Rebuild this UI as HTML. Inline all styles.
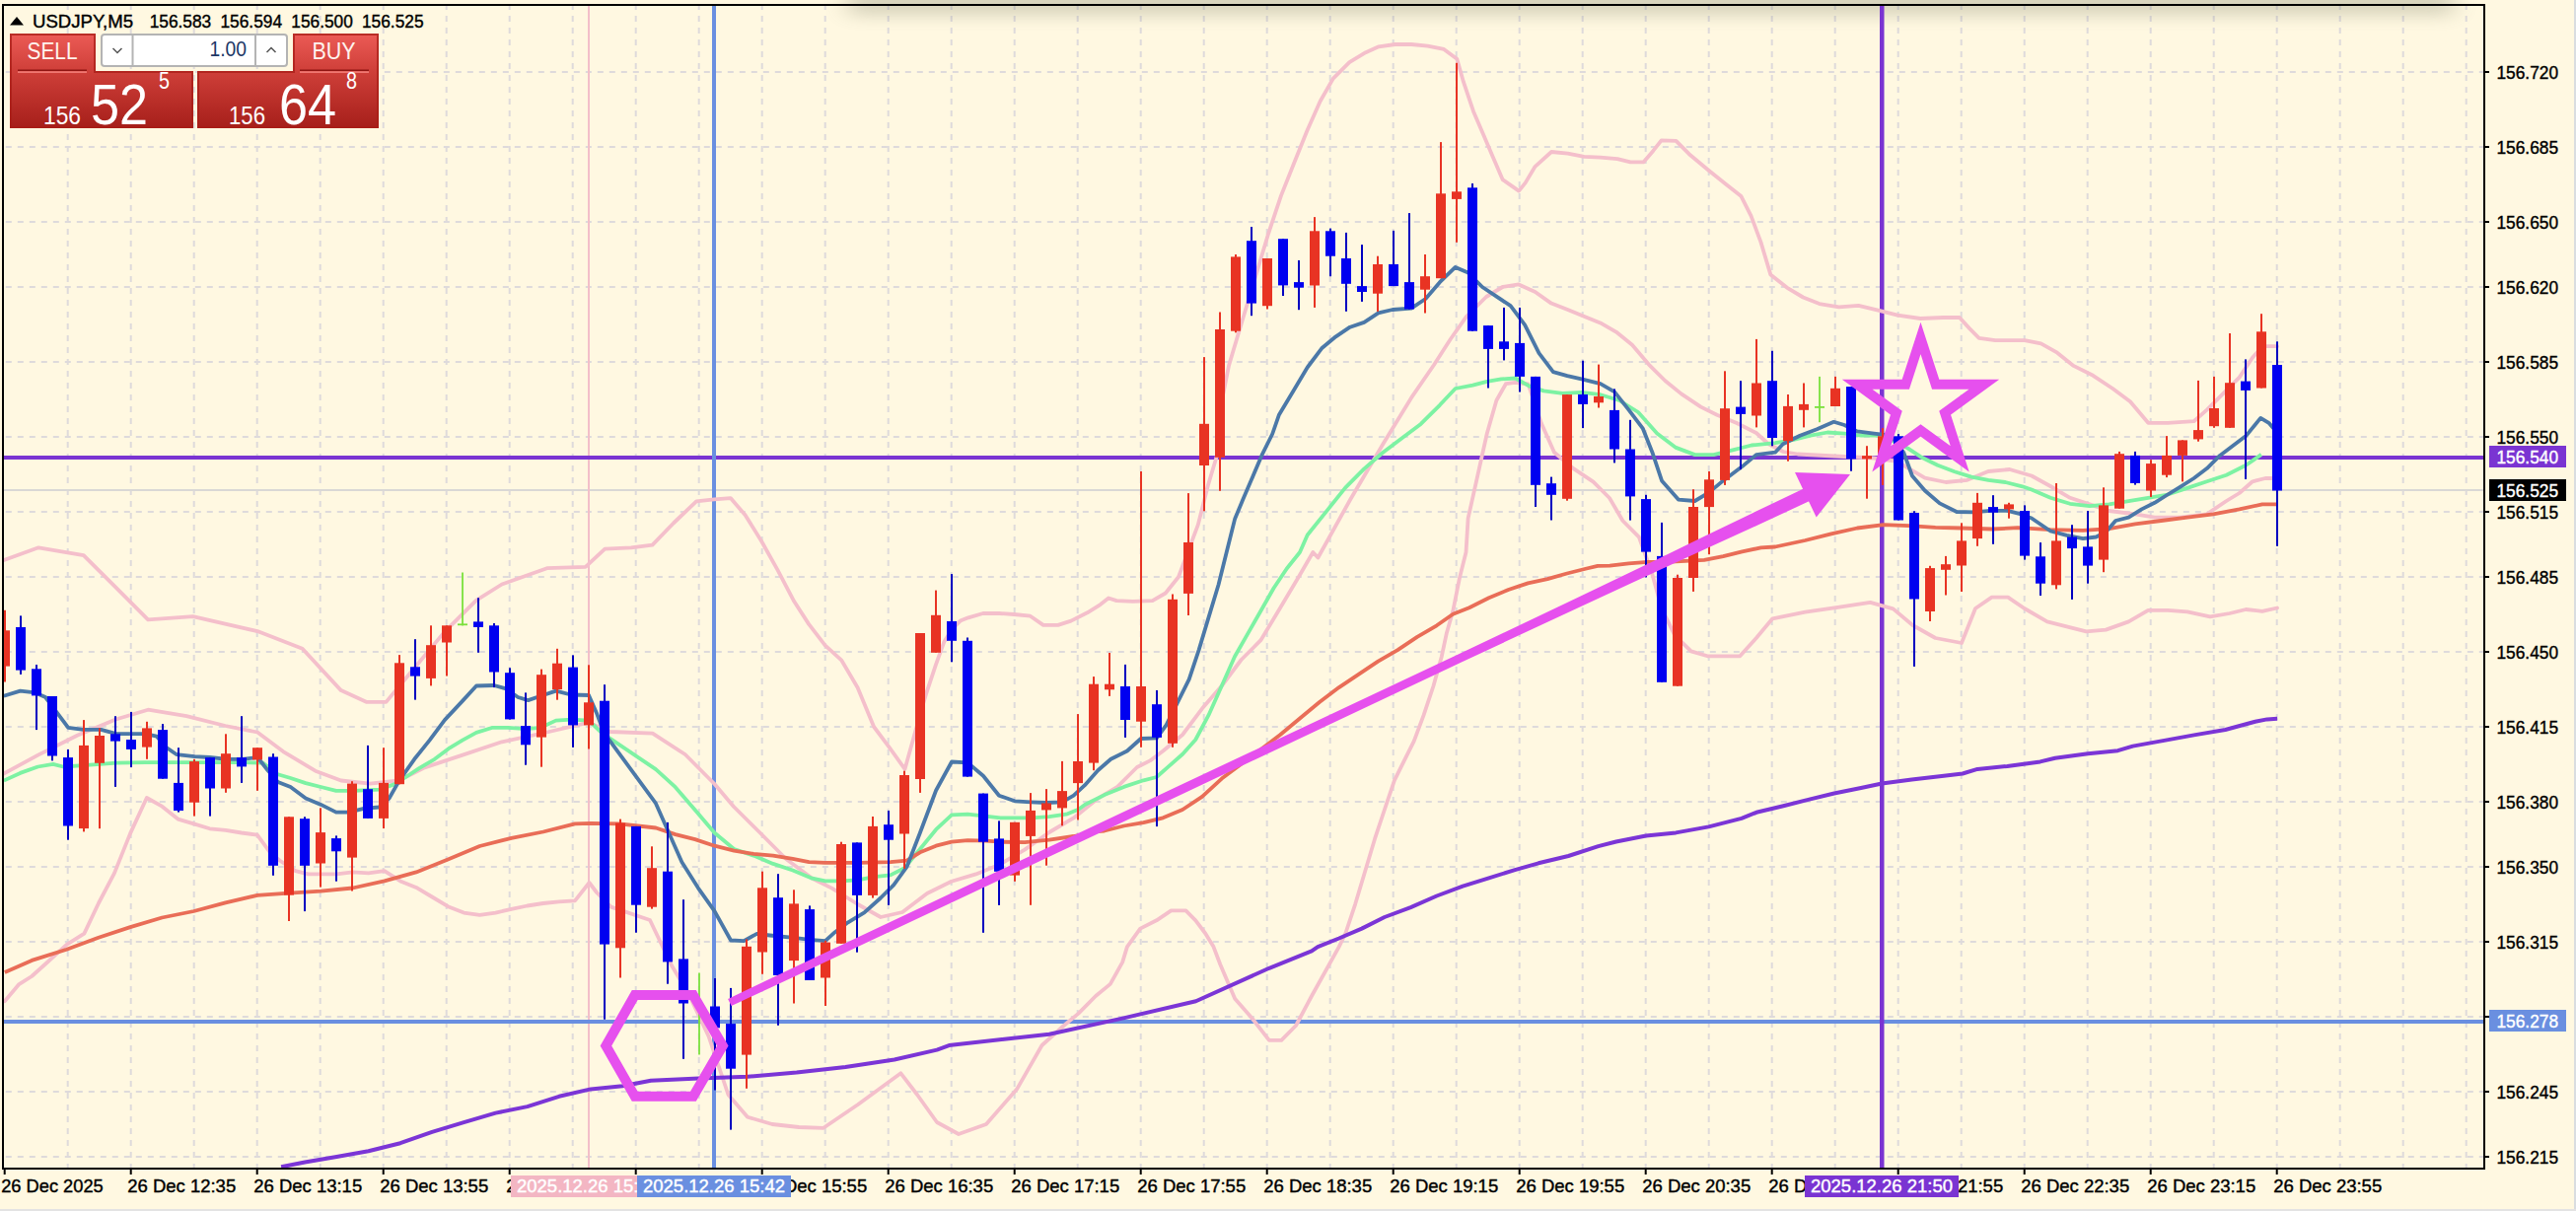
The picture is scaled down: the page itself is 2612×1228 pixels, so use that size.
<!DOCTYPE html>
<html><head><meta charset="utf-8"><title>USDJPY,M5</title>
<style>
html,body{margin:0;padding:0;background:#fff8e1;}
body{width:2612px;height:1228px;overflow:hidden;position:relative;font-family:"Liberation Sans",sans-serif;}
svg{position:absolute;left:0;top:0;display:block}
text{font-family:"Liberation Sans",sans-serif;}
</style></head><body>
<svg width="2612" height="1228" viewBox="0 0 2612 1228">
<defs>
<linearGradient id="rg" x1="0" y1="0" x2="0" y2="1"><stop offset="0" stop-color="#ec5b56"/><stop offset="0.38" stop-color="#d0403a"/><stop offset="1" stop-color="#a61f1a"/></linearGradient>
<linearGradient id="sh" x1="0" y1="0" x2="0" y2="1"><stop offset="0" stop-color="#8a8878" stop-opacity="0.45"/><stop offset="1" stop-color="#8a8878" stop-opacity="0"/></linearGradient>
<filter id="bl" x="-5%" y="-100%" width="110%" height="400%"><feGaussianBlur stdDeviation="12 8"/></filter>
<clipPath id="cp"><rect x="4" y="6" width="2514" height="1178"/></clipPath>
</defs>
<rect width="2612" height="1228" fill="#fff8e1"/>

<g stroke="#dedadb" stroke-width="2" stroke-dasharray="6 6" fill="none">
<path d="M5.8 73H2518"/>
<path d="M5.8 149H2518"/>
<path d="M5.8 225H2518"/>
<path d="M5.8 291H2518"/>
<path d="M5.8 367H2518"/>
<path d="M5.8 443H2518"/>
<path d="M5.8 519H2518"/>
<path d="M5.8 585H2518"/>
<path d="M5.8 661H2518"/>
<path d="M5.8 737H2518"/>
<path d="M5.8 813H2518"/>
<path d="M5.8 879H2518"/>
<path d="M5.8 955H2518"/>
<path d="M5.8 1031H2518"/>
<path d="M5.8 1107H2518"/>
<path d="M5.8 1173H2518"/>
<path d="M68.7 4V1184"/>
<path d="M132.7 4V1184"/>
<path d="M196.7 4V1184"/>
<path d="M260.7 4V1184"/>
<path d="M324.7 4V1184"/>
<path d="M388.7 4V1184"/>
<path d="M452.7 4V1184"/>
<path d="M516.7 4V1184"/>
<path d="M580.7 4V1184"/>
<path d="M644.7 4V1184"/>
<path d="M708.7 4V1184"/>
<path d="M772.7 4V1184"/>
<path d="M836.7 4V1184"/>
<path d="M900.7 4V1184"/>
<path d="M964.7 4V1184"/>
<path d="M1028.7 4V1184"/>
<path d="M1092.7 4V1184"/>
<path d="M1156.7 4V1184"/>
<path d="M1220.7 4V1184"/>
<path d="M1284.7 4V1184"/>
<path d="M1348.7 4V1184"/>
<path d="M1412.7 4V1184"/>
<path d="M1476.7 4V1184"/>
<path d="M1540.7 4V1184"/>
<path d="M1604.7 4V1184"/>
<path d="M1668.7 4V1184"/>
<path d="M1732.7 4V1184"/>
<path d="M1796.7 4V1184"/>
<path d="M1860.7 4V1184"/>
<path d="M1924.7 4V1184"/>
<path d="M1988.7 4V1184"/>
<path d="M2052.7 4V1184"/>
<path d="M2116.7 4V1184"/>
<path d="M2180.7 4V1184"/>
<path d="M2244.7 4V1184"/>
<path d="M2308.7 4V1184"/>
<path d="M2372.7 4V1184"/>
<path d="M2436.7 4V1184"/>
<path d="M2500.7 4V1184"/>
</g>
<rect x="860" y="-24" width="1628" height="40" fill="#62664f" opacity="0.24" filter="url(#bl)"/>
<g clip-path="url(#cp)">
<rect x="4" y="496" width="2514" height="2" fill="#dad8d5"/>
<rect x="596" y="6" width="2" height="1178" fill="#f3bfc9"/>
<rect x="4" y="462" width="2514" height="4" fill="#7a34d2"/>
<rect x="4" y="1034" width="2514" height="4" fill="#6a8fe0"/>
<rect x="722" y="6" width="4" height="1178" fill="#6a8fe0"/>
<rect x="1906" y="6" width="4.5" height="1178" fill="#7a34d2"/>
<g fill="none" stroke="#f4bfcb" stroke-width="3.8" stroke-linejoin="round" stroke-linecap="round">
<path d="M3.3 568.3 L39.1 555.3 L84.8 563.1 L117.4 595.7 L150.1 628.4 L195.7 625.1 L261.0 640.1 L306.6 657.7 L345.8 700.1 L371.9 711.9 L391.5 711.9 L417.6 680.5 L450.2 641.4 L482.8 608.8 L508.9 592.5 L554.6 576.2 L593.7 574.9 L613.3 556.6 L640.0 555.3 L661.5 552.6 L682.9 530.5 L706.1 508.4 L724.2 506.4 L740.8 505.1 L755.6 522.2 L772.1 548.7 L788.7 578.4 L805.2 609.8 L820.1 632.9 L836.6 654.4 L853.1 669.3 L869.6 697.3 L886.1 737.0 L901.0 756.8 L917.5 779.9 L925.8 750.2 L934.0 720.5 L939.0 703.9 L948.9 674.2 L957.2 651.1 L965.4 637.9 L973.7 629.6 L981.9 626.3 L996.8 622.0 L1013.3 622.0 L1028.2 623.0 L1044.7 624.7 L1057.9 633.9 L1072.8 633.9 L1086.0 629.6 L1102.5 621.3 L1115.7 613.1 L1124.0 606.5 L1132.2 609.1 L1148.8 609.8 L1168.6 609.1 L1181.8 601.5 L1195.0 585.0 L1204.9 558.6 L1214.8 532.1 L1224.8 492.5 L1234.7 459.5 L1239.5 403.4 L1246.1 370.4 L1256.0 337.3 L1265.9 304.3 L1275.8 271.3 L1285.7 238.2 L1298.9 198.6 L1312.1 165.5 L1325.4 132.5 L1338.6 102.8 L1351.8 79.6 L1368.3 63.1 L1384.8 53.2 L1398.0 47.3 L1414.6 45.0 L1431.1 45.0 L1447.6 46.6 L1464.1 49.9 L1477.3 59.8 L1483.9 82.9 L1493.9 112.7 L1503.8 135.8 L1513.7 158.9 L1523.6 182.1 L1540.1 193.6 L1546.7 185.4 L1556.6 168.8 L1573.1 154.0 L1589.7 155.6 L1606.2 158.9 L1622.7 159.6 L1640.0 161.1 L1653.2 164.4 L1666.4 164.4 L1676.3 152.9 L1684.6 142.3 L1699.5 142.9 L1712.7 156.2 L1732.5 172.7 L1749.0 185.9 L1765.5 199.1 L1775.5 218.9 L1785.4 245.4 L1795.3 278.4 L1811.8 291.6 L1828.3 301.5 L1844.8 308.1 L1864.7 311.4 L1884.5 309.8 L1904.3 314.7 L1924.1 319.7 L1947.2 323.0 L1970.4 322.0 L1986.9 322.0 L1996.8 332.9 L2006.7 342.8 L2023.2 345.1 L2053.0 345.1 L2069.5 348.4 L2086.0 357.7 L2102.5 370.9 L2122.3 380.8 L2142.2 394.0 L2160.0 407.2 L2178.2 428.8 L2198.0 428.8 L2224.5 427.2 L2237.7 415.6 L2254.2 399.1 L2270.7 382.6 L2283.9 362.8 L2293.9 351.2 L2309.0 351.2"/>
<path d="M3.3 784.9 L39.1 765.4 L78.3 745.8 L117.4 729.5 L150.1 719.7 L189.2 726.2 L228.4 736.0 L261.0 742.5 L287.1 762.1 L319.7 781.7 L345.8 791.5 L375.1 794.7 L404.5 791.5 L430.6 778.4 L469.8 765.4 L508.9 752.3 L554.6 742.5 L597.0 732.7 L618.7 742.0 L661.7 743.7 L694.7 765.0 L724.5 795.0 L744.0 818.0 L770.7 844.5 L797.0 871.0 L823.6 890.7 L843.4 900.6 L869.8 917.0 L893.0 930.0 L915.0 925.0 L940.0 906.0 L964.8 893.8 L989.6 886.4 L1014.0 876.5 L1039.0 861.6 L1063.9 844.0 L1088.7 829.4 L1113.4 809.6 L1133.0 797.9 L1152.9 778.0 L1166.1 771.4 L1179.3 761.5 L1199.1 745.0 L1218.9 718.6 L1238.8 695.5 L1258.6 669.0 L1278.4 649.2 L1298.2 616.2 L1318.0 583.1 L1331.3 560.0 L1336.4 565.5 L1369.5 506.0 L1402.5 450.0 L1431.0 403.4 L1454.0 370.0 L1470.7 344.0 L1487.0 320.8 L1507.0 301.0 L1523.6 291.0 L1540.0 288.4 L1556.6 296.0 L1573.0 307.6 L1589.6 314.0 L1606.0 320.8 L1622.7 327.4 L1638.7 336.6 L1655.0 349.8 L1671.8 369.6 L1688.3 386.0 L1704.8 399.4 L1724.6 412.6 L1741.0 420.8 L1761.0 429.0 L1780.8 439.0 L1793.0 450.0 L1808.0 458.0 L1823.0 460.5 L1860.0 462.5 L1900.0 464.5 L1925.0 468.0 L1930.0 471.8 L1951.8 484.7 L1973.0 489.0 L1994.7 486.8 L2016.0 478.0 L2037.7 476.0 L2060.0 482.5 L2079.0 493.0 L2099.0 504.8 L2118.8 511.4 L2138.6 518.0 L2165.0 521.3 L2184.8 524.6 L2211.3 524.6 L2237.7 521.3 L2257.5 508.0 L2270.7 500.0 L2284.0 488.3 L2297.0 485.0 L2309.0 485.0"/>
<path d="M4.8 1015.2 L19.3 998.1 L32.2 990.0 L48.3 975.5 L67.6 957.8 L85.4 946.6 L99.9 916.0 L116.0 885.4 L132.1 845.1 L148.8 809.0 L164.3 817.7 L180.4 830.6 L196.5 835.4 L212.6 840.3 L228.7 841.9 L244.8 844.5 L260.9 846.7 L273.8 864.4 L283.5 872.5 L299.6 883.1 L312.4 886.3 L325.3 886.3 L341.4 886.3 L357.5 884.4 L373.6 885.4 L389.8 883.1 L405.9 893.4 L422.0 899.9 L438.1 909.5 L454.2 919.2 L470.3 925.6 L486.4 927.9 L502.5 925.6 L518.6 921.8 L534.7 918.5 L550.8 916.0 L566.9 914.3 L583.0 913.4 L597.5 895.0 L605.0 905.0 L619.5 919.6 L659.0 933.0 L681.0 979.0 L698.7 1008.8 L718.6 1051.0 L738.4 1110.0 L758.0 1132.7 L783.0 1140.0 L810.0 1143.0 L835.0 1143.8 L870.0 1120.0 L913.4 1088.3 L930.0 1110.0 L950.0 1138.0 L972.0 1150.0 L1000.0 1140.0 L1031.0 1104.6 L1056.5 1060.0 L1078.7 1040.0 L1093.6 1027.6 L1111.0 1010.0 L1125.8 997.9 L1138.2 975.6 L1142.9 960.1 L1156.2 941.6 L1172.7 933.3 L1187.5 923.4 L1202.4 923.4 L1212.3 933.3 L1222.2 946.5 L1230.5 960.1 L1237.3 978.0 L1252.2 1012.7 L1269.5 1032.5 L1286.9 1054.8 L1299.3 1054.8 L1314.0 1040.0 L1330.0 1010.0 L1357.7 960.1 L1364.3 946.5 L1374.2 916.8 L1384.1 883.8 L1394.0 850.7 L1403.9 821.0 L1413.9 791.3 L1423.8 771.4 L1433.7 751.6 L1443.6 725.2 L1453.5 695.5 L1461.8 665.7 L1466.7 642.6 L1473.3 619.5 L1479.9 586.4 L1486.5 560.0 L1488.6 525.7 L1498.2 482.6 L1507.8 439.5 L1517.4 406.0 L1526.9 389.2 L1536.3 387.8 L1549.6 389.5 L1562.8 429.0 L1576.0 458.8 L1595.8 475.4 L1615.6 488.6 L1632.0 505.0 L1645.4 528.0 L1661.9 544.7 L1675.0 581.0 L1685.0 617.4 L1698.0 643.8 L1714.7 660.4 L1731.3 665.3 L1764.3 665.3 L1780.8 647.0 L1797.3 627.3 L1830.4 620.7 L1863.4 615.8 L1896.4 610.8 L1919.6 617.4 L1939.4 634.0 L1962.5 647.0 L1989.0 652.0 L2003.0 617.0 L2019.6 605.6 L2036.0 605.6 L2052.7 617.0 L2075.8 630.4 L2095.6 635.3 L2115.4 640.3 L2135.3 638.6 L2158.4 630.4 L2178.2 618.8 L2198.0 618.8 L2217.9 620.4 L2241.0 625.4 L2260.8 622.0 L2277.3 618.0 L2293.8 619.8 L2309.0 616.5"/>
</g>
<path d="M3.8 791.6 L20.5 783.9 L38.4 777.5 L53.8 774.9 L64.1 777.5 L84.5 776.2 L117.9 773.6 L147.3 773.1 L179.3 773.1 L212.7 773.1 L246.0 773.1 L266.5 773.6 L281.8 785.2 L294.6 789.0 L310.0 794.1 L325.4 798.0 L340.8 801.8 L358.7 801.8 L384.3 800.6 L399.7 795.4 L409.9 789.0 L425.3 778.8 L440.7 769.8 L456.1 758.3 L468.9 750.6 L483.0 742.9 L499.6 737.8 L515.0 737.8 L532.9 739.1 L548.3 737.8 L563.7 730.6 L579.0 729.6 L597.0 730.6 L609.8 742.9 L665.0 780.1 L684.8 798.2 L704.7 821.3 L724.5 844.5 L744.3 861.0 L764.1 867.6 L783.9 875.9 L803.8 882.5 L823.6 890.7 L836.8 893.4 L853.3 893.4 L869.8 892.4 L886.4 889.1 L902.9 887.4 L917.1 880.2 L932.9 861.0 L949.1 841.2 L965.0 826.3 L981.2 825.6 L997.0 827.3 L1014.3 829.4 L1029.2 829.4 L1046.5 829.4 L1063.9 828.1 L1081.2 825.7 L1093.6 820.7 L1100.0 816.0 L1119.8 806.1 L1139.6 797.9 L1159.5 791.3 L1172.7 788.0 L1185.9 776.4 L1199.1 764.8 L1212.3 750.0 L1225.5 725.2 L1238.8 695.5 L1252.0 665.7 L1265.2 642.6 L1278.4 619.5 L1291.6 596.3 L1304.8 576.5 L1318.0 560.0 L1325.7 542.5 L1344.9 518.6 L1364.1 494.6 L1383.2 475.4 L1402.4 458.7 L1421.6 444.3 L1440.7 429.9 L1459.9 410.8 L1475.7 394.0 L1493.4 390.7 L1507.8 386.8 L1522.2 384.4 L1536.5 383.5 L1550.9 391.6 L1565.3 396.4 L1584.4 398.8 L1603.6 397.8 L1622.8 400.2 L1641.9 406.0 L1661.1 418.0 L1680.2 439.5 L1699.4 453.9 L1718.6 461.1 L1737.7 461.1 L1756.9 456.3 L1776.0 451.5 L1800.0 449.1 L1818.7 446.0 L1835.8 441.7 L1853.0 438.5 L1870.2 439.6 L1887.4 441.7 L1904.5 441.7 L1921.7 448.2 L1934.6 454.6 L1947.5 463.2 L1964.7 471.8 L1981.8 478.2 L1999.0 483.6 L2016.2 486.8 L2033.4 489.0 L2050.6 493.3 L2060.0 496.5 L2079.1 504.8 L2098.9 510.8 L2118.8 513.1 L2138.6 511.4 L2158.4 508.1 L2178.2 504.8 L2198.0 501.5 L2217.9 494.9 L2237.7 488.3 L2257.5 481.7 L2277.3 471.8 L2292.9 460.9" fill="none" stroke="#7df2a3" stroke-width="3.8" stroke-linejoin="round"/>
<path d="M4.8 985.9 L32.2 973.9 L67.6 962.7 L99.9 950.7 L132.1 940.1 L164.3 930.5 L196.5 924.0 L228.7 915.3 L260.9 907.9 L293.1 905.7 L325.3 903.7 L357.5 900.5 L389.8 893.4 L422.0 884.4 L454.2 871.5 L486.4 858.0 L518.6 849.9 L550.8 843.5 L583.0 835.4 L599.1 834.8 L628.1 835.4 L665.0 839.5 L684.8 846.1 L704.7 851.1 L724.5 857.7 L744.3 862.6 L764.1 865.9 L783.9 867.6 L803.8 870.9 L820.3 874.2 L836.8 874.9 L869.8 874.9 L902.9 874.2 L919.4 872.6 L932.9 864.3 L949.1 857.7 L965.0 853.7 L981.2 852.1 L1000.0 852.7 L1014.3 853.7 L1039.1 854.2 L1063.9 851.7 L1088.7 848.0 L1113.4 843.0 L1119.8 842.5 L1139.6 837.5 L1159.5 834.2 L1179.3 829.3 L1199.1 821.0 L1218.9 807.8 L1238.8 789.6 L1258.6 774.7 L1278.4 759.9 L1298.2 745.0 L1318.0 728.5 L1337.9 712.0 L1357.7 697.1 L1377.5 683.9 L1397.3 670.7 L1417.2 659.1 L1437.0 645.9 L1456.8 634.3 L1473.3 622.8 L1489.8 616.2 L1509.7 606.3 L1529.5 598.0 L1549.3 591.4 L1569.1 587.1 L1588.9 581.5 L1608.8 576.5 L1620.0 573.9 L1632.3 573.7 L1651.5 571.3 L1670.7 569.8 L1689.8 569.8 L1709.0 568.9 L1728.1 567.9 L1747.3 564.1 L1766.5 559.3 L1785.6 555.4 L1800.0 554.5 L1830.4 548.0 L1856.8 541.4 L1883.2 535.5 L1909.7 532.2 L1936.1 533.2 L1962.5 534.8 L1988.9 535.5 L2020.0 536.5 L2046.1 535.2 L2079.1 537.2 L2112.1 537.9 L2138.6 536.2 L2165.0 531.3 L2191.4 528.0 L2217.9 524.7 L2244.3 521.3 L2270.7 516.4 L2293.9 511.4 L2309.0 511.4" fill="none" stroke="#e96d57" stroke-width="3.8" stroke-linejoin="round"/>
<path d="M285.1 1183.3 L309.2 1178.5 L341.4 1173.0 L373.6 1167.2 L405.9 1159.2 L438.1 1147.9 L470.3 1138.2 L502.5 1128.6 L534.7 1122.1 L566.9 1111.8 L599.1 1104.4 L631.3 1101.2 L660.0 1095.7 L708.7 1093.6 L758.2 1091.8 L807.8 1087.6 L857.3 1081.9 L906.9 1074.5 L950.0 1064.6 L962.3 1060.1 L1063.9 1048.7 L1138.2 1032.6 L1212.6 1015.2 L1286.9 981.8 L1330.0 964.4 L1336.2 960.1 L1357.7 951.5 L1380.8 941.6 L1403.9 930.0 L1430.4 920.1 L1456.8 908.5 L1483.2 898.6 L1509.7 890.4 L1536.1 882.1 L1560.0 875.3 L1590.3 868.0 L1620.6 858.1 L1638.7 853.5 L1669.0 847.5 L1699.3 844.4 L1732.6 838.4 L1765.9 829.9 L1781.0 823.8 L1808.3 817.2 L1832.5 811.1 L1859.8 804.5 L1887.0 799.0 L1908.2 794.5 L1938.5 790.5 L1968.8 786.9 L1990.0 784.5 L2005.1 779.9 L2035.4 776.9 L2068.7 772.4 L2083.8 768.7 L2117.1 764.2 L2147.4 761.2 L2162.6 756.6 L2195.9 750.6 L2226.1 745.1 L2256.4 740.0 L2286.7 731.8 L2298.8 729.4 L2309.1 728.8" fill="none" stroke="#7b35d6" stroke-width="4" stroke-linejoin="round"/>
<path d="M3.8 705.8 L20.5 700.6 L35.9 702.4 L46.1 707.0 L57.6 722.4 L69.2 737.8 L84.5 739.8 L102.5 739.8 L117.9 744.2 L133.2 744.2 L147.3 744.2 L158.9 746.7 L169.1 758.3 L179.3 765.2 L197.3 767.2 L212.7 768.0 L230.6 769.8 L246.0 769.8 L261.3 768.0 L271.6 781.3 L281.8 792.9 L294.6 798.0 L310.0 809.5 L325.4 815.9 L340.8 823.6 L353.6 823.6 L368.9 819.8 L384.3 818.5 L394.6 809.5 L404.8 791.6 L420.2 769.8 L435.6 750.6 L450.9 730.1 L468.9 710.9 L483.0 695.5 L500.9 695.0 L512.4 698.1 L525.2 707.0 L535.5 710.1 L548.3 705.8 L563.7 700.6 L579.0 704.5 L597.0 705.0 L604.7 722.4 L612.3 742.9 L665.0 814.7 L678.2 844.5 L691.4 874.2 L708.0 900.6 L724.5 923.8 L741.0 953.5 L754.2 954.2 L767.4 946.9 L780.6 948.5 L804.8 950.9 L820.9 952.8 L836.8 954.2 L846.7 945.2 L859.9 935.3 L876.4 925.4 L893.0 910.5 L906.2 897.3 L919.4 879.2 L932.9 844.5 L949.1 801.5 L965.0 772.5 L981.2 773.4 L997.0 786.7 L1013.0 806.7 L1028.9 812.3 L1045.1 813.3 L1060.9 814.0 L1077.1 813.3 L1088.7 806.7 L1100.0 796.2 L1113.2 781.3 L1126.4 769.8 L1142.9 761.5 L1156.8 749.0 L1173.0 748.3 L1182.6 735.1 L1192.5 715.3 L1205.7 688.8 L1215.6 659.1 L1225.5 626.1 L1235.5 593.0 L1243.7 560.0 L1252.2 525.9 L1260.5 506.1 L1270.4 482.9 L1280.3 459.8 L1290.2 440.0 L1297.0 420.4 L1311.4 396.4 L1325.7 372.5 L1340.1 353.3 L1354.5 341.3 L1368.9 331.7 L1383.2 326.9 L1397.6 317.4 L1412.0 314.0 L1431.1 312.6 L1445.5 303.0 L1459.9 286.2 L1475.7 270.9 L1488.6 276.6 L1503.0 291.0 L1517.4 300.6 L1531.7 310.2 L1546.1 329.3 L1560.5 358.1 L1574.9 377.2 L1589.2 381.1 L1603.6 384.4 L1622.8 389.2 L1637.1 397.4 L1651.5 415.6 L1665.9 434.7 L1675.4 458.7 L1685.0 487.4 L1701.8 506.6 L1718.6 508.0 L1732.9 499.4 L1747.3 487.4 L1766.5 473.1 L1780.8 461.1 L1800.0 458.7 L1807.9 450.3 L1825.1 441.7 L1842.3 435.3 L1859.4 427.8 L1870.2 431.0 L1883.1 437.4 L1900.2 439.6 L1917.4 441.7 L1930.3 458.9 L1938.9 482.5 L1951.8 497.5 L1966.8 510.4 L1984.0 519.0 L2001.2 519.4 L2018.3 517.9 L2035.5 517.9 L2048.4 521.2 L2060.0 525.5 L2079.1 538.5 L2095.6 542.8 L2112.1 546.1 L2125.4 544.5 L2135.3 539.5 L2145.2 528.0 L2158.4 524.7 L2171.6 516.4 L2184.8 509.8 L2198.0 501.5 L2211.3 493.3 L2224.5 485.0 L2237.7 475.1 L2250.9 461.9 L2264.1 452.0 L2277.3 442.1 L2292.2 423.9 L2300.5 428.8 L2309.0 438.8" fill="none" stroke="#4b78a8" stroke-width="3.8" stroke-linejoin="round"/>
<rect x="4" y="618.8" width="2" height="72.7" fill="#e83323"/>
<rect x="0" y="639.3" width="10" height="36.3" fill="#e83323"/>
<rect x="20" y="624.4" width="2" height="59.5" fill="#0000c0"/>
<rect x="16" y="636.0" width="10" height="43.6" fill="#0000f0"/>
<rect x="36" y="674.0" width="2" height="66.1" fill="#0000c0"/>
<rect x="32" y="678.3" width="10" height="27.1" fill="#0000f0"/>
<rect x="52" y="706.0" width="2" height="65.4" fill="#0000c0"/>
<rect x="48" y="706.0" width="10" height="60.5" fill="#0000f0"/>
<rect x="68" y="759.9" width="2" height="91.8" fill="#0000c0"/>
<rect x="64" y="768.1" width="10" height="69.4" fill="#0000f0"/>
<rect x="84" y="730.1" width="2" height="113.3" fill="#e83323"/>
<rect x="80" y="755.9" width="10" height="84.2" fill="#e83323"/>
<rect x="100" y="738.4" width="2" height="101.8" fill="#e83323"/>
<rect x="96" y="746.0" width="10" height="27.8" fill="#e83323"/>
<rect x="116" y="726.2" width="2" height="71.7" fill="#0000c0"/>
<rect x="112" y="744.3" width="10" height="7.3" fill="#0000f0"/>
<rect x="132" y="721.9" width="2" height="56.2" fill="#0000c0"/>
<rect x="128" y="750.0" width="10" height="9.9" fill="#0000f0"/>
<rect x="148" y="731.8" width="2" height="38.0" fill="#e83323"/>
<rect x="144" y="738.4" width="10" height="19.2" fill="#e83323"/>
<rect x="164" y="734.1" width="2" height="55.5" fill="#0000c0"/>
<rect x="160" y="740.1" width="10" height="49.6" fill="#0000f0"/>
<rect x="180" y="758.2" width="2" height="65.4" fill="#0000c0"/>
<rect x="176" y="793.9" width="10" height="28.1" fill="#0000f0"/>
<rect x="196" y="769.8" width="2" height="57.8" fill="#e83323"/>
<rect x="192" y="772.1" width="10" height="41.6" fill="#e83323"/>
<rect x="212" y="768.1" width="2" height="59.5" fill="#0000c0"/>
<rect x="208" y="768.1" width="10" height="31.4" fill="#0000f0"/>
<rect x="228" y="744.3" width="2" height="59.5" fill="#e83323"/>
<rect x="224" y="764.2" width="10" height="35.3" fill="#e83323"/>
<rect x="244" y="726.2" width="2" height="67.7" fill="#0000c0"/>
<rect x="240" y="768.1" width="10" height="9.3" fill="#0000f0"/>
<rect x="260" y="758.2" width="2" height="43.6" fill="#e83323"/>
<rect x="256" y="758.2" width="10" height="12.2" fill="#e83323"/>
<rect x="276" y="764.2" width="2" height="123.6" fill="#0000c0"/>
<rect x="272" y="767.5" width="10" height="110.3" fill="#0000f0"/>
<rect x="292" y="828.3" width="2" height="105.7" fill="#e83323"/>
<rect x="288" y="828.3" width="10" height="79.3" fill="#e83323"/>
<rect x="308" y="828.3" width="2" height="95.8" fill="#0000c0"/>
<rect x="304" y="830.2" width="10" height="47.6" fill="#0000f0"/>
<rect x="324" y="819.3" width="2" height="80.3" fill="#e83323"/>
<rect x="320" y="844.1" width="10" height="31.4" fill="#e83323"/>
<rect x="340" y="847.4" width="2" height="46.3" fill="#0000c0"/>
<rect x="336" y="850.1" width="10" height="13.2" fill="#0000f0"/>
<rect x="356" y="792.2" width="2" height="111.3" fill="#e83323"/>
<rect x="352" y="794.6" width="10" height="75.0" fill="#e83323"/>
<rect x="372" y="755.9" width="2" height="74.0" fill="#0000c0"/>
<rect x="368" y="800.2" width="10" height="29.7" fill="#0000f0"/>
<rect x="388" y="758.2" width="2" height="81.9" fill="#e83323"/>
<rect x="384" y="793.9" width="10" height="36.0" fill="#e83323"/>
<rect x="404" y="664.1" width="2" height="131.2" fill="#e83323"/>
<rect x="400" y="672.3" width="10" height="122.9" fill="#e83323"/>
<rect x="420" y="648.2" width="2" height="61.4" fill="#0000c0"/>
<rect x="416" y="676.3" width="10" height="9.3" fill="#0000f0"/>
<rect x="436" y="634.3" width="2" height="61.1" fill="#e83323"/>
<rect x="432" y="654.2" width="10" height="33.7" fill="#e83323"/>
<rect x="452" y="634.3" width="2" height="51.2" fill="#e83323"/>
<rect x="448" y="634.3" width="10" height="17.2" fill="#e83323"/>
<rect x="468.1" y="580.5" width="1.8" height="53.9" fill="#7be03c"/>
<rect x="464" y="632.4" width="10" height="1.8" fill="#7be03c"/>
<rect x="484" y="606.3" width="2" height="55.5" fill="#0000c0"/>
<rect x="480" y="630.4" width="10" height="5.6" fill="#0000f0"/>
<rect x="500" y="632.0" width="2" height="65.1" fill="#0000c0"/>
<rect x="496" y="634.3" width="10" height="47.2" fill="#0000f0"/>
<rect x="516" y="677.3" width="2" height="52.2" fill="#0000c0"/>
<rect x="512" y="682.2" width="10" height="47.2" fill="#0000f0"/>
<rect x="532" y="702.4" width="2" height="73.3" fill="#0000c0"/>
<rect x="528" y="736.1" width="10" height="19.2" fill="#0000f0"/>
<rect x="548" y="678.6" width="2" height="99.1" fill="#e83323"/>
<rect x="544" y="684.2" width="10" height="63.4" fill="#e83323"/>
<rect x="564" y="657.8" width="2" height="51.9" fill="#e83323"/>
<rect x="560" y="672.7" width="10" height="26.4" fill="#e83323"/>
<rect x="580" y="664.4" width="2" height="93.5" fill="#0000c0"/>
<rect x="576" y="676.6" width="10" height="58.8" fill="#0000f0"/>
<rect x="596" y="674.3" width="2" height="85.2" fill="#e83323"/>
<rect x="592" y="712.3" width="10" height="23.1" fill="#e83323"/>
<rect x="612" y="694.2" width="2" height="339.5" fill="#0000c0"/>
<rect x="608" y="710.7" width="10" height="246.9" fill="#0000f0"/>
<rect x="628" y="830.6" width="2" height="160.9" fill="#e83323"/>
<rect x="624" y="834.6" width="10" height="126.7" fill="#e83323"/>
<rect x="644" y="837.9" width="2" height="107.8" fill="#0000c0"/>
<rect x="640" y="837.9" width="10" height="79.8" fill="#0000f0"/>
<rect x="660" y="858.3" width="2" height="63.3" fill="#e83323"/>
<rect x="656" y="880.2" width="10" height="39.5" fill="#e83323"/>
<rect x="676" y="833.9" width="2" height="163.8" fill="#0000c0"/>
<rect x="672" y="883.7" width="10" height="91.7" fill="#0000f0"/>
<rect x="692" y="912.2" width="2" height="161.6" fill="#0000c0"/>
<rect x="688" y="972.4" width="10" height="45.1" fill="#0000f0"/>
<rect x="708.1" y="986.5" width="1.8" height="83.0" fill="#7be03c"/>
<rect x="724" y="992.0" width="2" height="113.5" fill="#0000c0"/>
<rect x="720" y="1020.5" width="10" height="21.8" fill="#0000f0"/>
<rect x="740" y="1001.9" width="2" height="143.7" fill="#0000c0"/>
<rect x="736" y="1038.1" width="10" height="45.6" fill="#0000f0"/>
<rect x="756" y="952.4" width="2" height="151.4" fill="#e83323"/>
<rect x="752" y="959.8" width="10" height="109.8" fill="#e83323"/>
<rect x="772" y="883.7" width="2" height="104.1" fill="#e83323"/>
<rect x="768" y="900.3" width="10" height="65.2" fill="#e83323"/>
<rect x="788" y="886.2" width="2" height="153.6" fill="#0000c0"/>
<rect x="784" y="910.2" width="10" height="78.8" fill="#0000f0"/>
<rect x="804" y="902.3" width="2" height="115.2" fill="#e83323"/>
<rect x="800" y="916.4" width="10" height="57.7" fill="#e83323"/>
<rect x="820" y="918.4" width="2" height="75.6" fill="#0000c0"/>
<rect x="816" y="922.1" width="10" height="71.9" fill="#0000f0"/>
<rect x="836" y="953.8" width="2" height="66.2" fill="#e83323"/>
<rect x="832" y="955.6" width="10" height="35.9" fill="#e83323"/>
<rect x="852" y="853.7" width="2" height="103.1" fill="#e83323"/>
<rect x="848" y="856.0" width="10" height="100.8" fill="#e83323"/>
<rect x="868" y="854.4" width="2" height="111.3" fill="#0000c0"/>
<rect x="864" y="854.4" width="10" height="53.5" fill="#0000f0"/>
<rect x="884" y="828.0" width="2" height="82.6" fill="#e83323"/>
<rect x="880" y="837.9" width="10" height="70.0" fill="#e83323"/>
<rect x="900" y="822.0" width="2" height="95.8" fill="#0000c0"/>
<rect x="896" y="836.2" width="10" height="15.5" fill="#0000f0"/>
<rect x="916" y="781.7" width="2" height="99.1" fill="#e83323"/>
<rect x="912" y="786.0" width="10" height="59.5" fill="#e83323"/>
<rect x="932" y="642.0" width="2" height="161.9" fill="#e83323"/>
<rect x="928" y="642.0" width="10" height="148.0" fill="#e83323"/>
<rect x="948" y="598.6" width="2" height="63.2" fill="#e83323"/>
<rect x="944" y="623.8" width="10" height="38.0" fill="#e83323"/>
<rect x="964" y="582.1" width="2" height="89.2" fill="#0000c0"/>
<rect x="960" y="630.0" width="10" height="19.8" fill="#0000f0"/>
<rect x="980" y="646.5" width="2" height="141.1" fill="#0000c0"/>
<rect x="976" y="649.8" width="10" height="137.8" fill="#0000f0"/>
<rect x="996" y="804.6" width="2" height="141.2" fill="#0000c0"/>
<rect x="992" y="804.6" width="10" height="49.1" fill="#0000f0"/>
<rect x="1012" y="832.4" width="2" height="85.5" fill="#0000c0"/>
<rect x="1008" y="850.4" width="10" height="33.4" fill="#0000f0"/>
<rect x="1028" y="833.8" width="2" height="60.0" fill="#e83323"/>
<rect x="1024" y="833.8" width="10" height="53.8" fill="#e83323"/>
<rect x="1044" y="804.1" width="2" height="113.7" fill="#e83323"/>
<rect x="1040" y="821.9" width="10" height="26.0" fill="#e83323"/>
<rect x="1060" y="800.1" width="2" height="77.6" fill="#e83323"/>
<rect x="1056" y="814.5" width="10" height="6.9" fill="#e83323"/>
<rect x="1076" y="771.9" width="2" height="65.4" fill="#e83323"/>
<rect x="1072" y="802.1" width="10" height="17.3" fill="#e83323"/>
<rect x="1092" y="724.1" width="2" height="107.4" fill="#e83323"/>
<rect x="1088" y="772.0" width="10" height="22.1" fill="#e83323"/>
<rect x="1108" y="686.1" width="2" height="95.1" fill="#e83323"/>
<rect x="1104" y="693.7" width="10" height="79.9" fill="#e83323"/>
<rect x="1124" y="662.0" width="2" height="43.9" fill="#e83323"/>
<rect x="1120" y="693.7" width="10" height="5.6" fill="#e83323"/>
<rect x="1140" y="673.9" width="2" height="74.0" fill="#0000c0"/>
<rect x="1136" y="696.0" width="10" height="34.0" fill="#0000f0"/>
<rect x="1156" y="478.0" width="2" height="279.8" fill="#e83323"/>
<rect x="1152" y="696.0" width="10" height="35.7" fill="#e83323"/>
<rect x="1172" y="700.0" width="2" height="138.1" fill="#0000c0"/>
<rect x="1168" y="714.2" width="10" height="33.7" fill="#0000f0"/>
<rect x="1188" y="602.5" width="2" height="155.3" fill="#e83323"/>
<rect x="1184" y="607.8" width="10" height="146.0" fill="#e83323"/>
<rect x="1204" y="500.1" width="2" height="123.9" fill="#e83323"/>
<rect x="1200" y="550.0" width="10" height="51.9" fill="#e83323"/>
<rect x="1220" y="362.1" width="2" height="156.2" fill="#e83323"/>
<rect x="1216" y="429.8" width="10" height="42.2" fill="#e83323"/>
<rect x="1236" y="316.5" width="2" height="181.3" fill="#e83323"/>
<rect x="1232" y="334.0" width="10" height="129.8" fill="#e83323"/>
<rect x="1252" y="258.0" width="2" height="79.3" fill="#e83323"/>
<rect x="1248" y="260.4" width="10" height="75.3" fill="#e83323"/>
<rect x="1268" y="230.0" width="2" height="90.2" fill="#0000c0"/>
<rect x="1264" y="244.2" width="10" height="63.4" fill="#0000f0"/>
<rect x="1284" y="262.0" width="2" height="51.5" fill="#e83323"/>
<rect x="1280" y="262.0" width="10" height="48.2" fill="#e83323"/>
<rect x="1300" y="242.2" width="2" height="57.8" fill="#0000c0"/>
<rect x="1296" y="242.2" width="10" height="47.2" fill="#0000f0"/>
<rect x="1316" y="264.0" width="2" height="50.2" fill="#0000c0"/>
<rect x="1312" y="286.1" width="10" height="5.6" fill="#0000f0"/>
<rect x="1332" y="220.1" width="2" height="91.8" fill="#e83323"/>
<rect x="1328" y="234.3" width="10" height="55.2" fill="#e83323"/>
<rect x="1348" y="231.6" width="2" height="48.6" fill="#0000c0"/>
<rect x="1344" y="234.3" width="10" height="25.4" fill="#0000f0"/>
<rect x="1364" y="235.9" width="2" height="79.9" fill="#0000c0"/>
<rect x="1360" y="262.0" width="10" height="25.8" fill="#0000f0"/>
<rect x="1380" y="248.1" width="2" height="57.8" fill="#0000c0"/>
<rect x="1376" y="290.1" width="10" height="5.9" fill="#0000f0"/>
<rect x="1396" y="259.7" width="2" height="56.2" fill="#e83323"/>
<rect x="1392" y="268.0" width="10" height="29.7" fill="#e83323"/>
<rect x="1412" y="233.9" width="2" height="56.2" fill="#0000c0"/>
<rect x="1408" y="268.0" width="10" height="22.1" fill="#0000f0"/>
<rect x="1428" y="216.1" width="2" height="97.5" fill="#0000c0"/>
<rect x="1424" y="286.1" width="10" height="27.4" fill="#0000f0"/>
<rect x="1444" y="258.0" width="2" height="59.5" fill="#e83323"/>
<rect x="1440" y="280.2" width="10" height="13.5" fill="#e83323"/>
<rect x="1460" y="144.1" width="2" height="138.1" fill="#e83323"/>
<rect x="1456" y="196.3" width="10" height="85.9" fill="#e83323"/>
<rect x="1476" y="63.8" width="2" height="182.0" fill="#e83323"/>
<rect x="1472" y="194.3" width="10" height="7.6" fill="#e83323"/>
<rect x="1492" y="186.0" width="2" height="149.7" fill="#0000c0"/>
<rect x="1488" y="190.3" width="10" height="145.4" fill="#0000f0"/>
<rect x="1508" y="330.1" width="2" height="63.4" fill="#0000c0"/>
<rect x="1504" y="330.1" width="10" height="23.8" fill="#0000f0"/>
<rect x="1524" y="311.9" width="2" height="53.5" fill="#0000c0"/>
<rect x="1520" y="346.3" width="10" height="7.6" fill="#0000f0"/>
<rect x="1540" y="311.9" width="2" height="85.6" fill="#0000c0"/>
<rect x="1536" y="347.9" width="10" height="34.0" fill="#0000f0"/>
<rect x="1556" y="381.9" width="2" height="132.1" fill="#0000c0"/>
<rect x="1552" y="381.9" width="10" height="109.9" fill="#0000f0"/>
<rect x="1572" y="483.6" width="2" height="43.9" fill="#0000c0"/>
<rect x="1568" y="490.2" width="10" height="11.6" fill="#0000f0"/>
<rect x="1588" y="400.1" width="2" height="107.6" fill="#e83323"/>
<rect x="1584" y="400.1" width="10" height="105.7" fill="#e83323"/>
<rect x="1604" y="365.7" width="2" height="68.4" fill="#0000c0"/>
<rect x="1600" y="400.0" width="10" height="9.9" fill="#0000f0"/>
<rect x="1620" y="369.6" width="2" height="43.9" fill="#e83323"/>
<rect x="1616" y="402.0" width="10" height="6.3" fill="#e83323"/>
<rect x="1636" y="394.4" width="2" height="75.0" fill="#0000c0"/>
<rect x="1632" y="415.9" width="10" height="39.6" fill="#0000f0"/>
<rect x="1652" y="425.8" width="2" height="101.8" fill="#0000c0"/>
<rect x="1648" y="455.5" width="10" height="47.9" fill="#0000f0"/>
<rect x="1668" y="501.8" width="2" height="83.6" fill="#0000c0"/>
<rect x="1664" y="506.1" width="10" height="53.5" fill="#0000f0"/>
<rect x="1684" y="529.9" width="2" height="161.9" fill="#0000c0"/>
<rect x="1680" y="563.9" width="10" height="127.9" fill="#0000f0"/>
<rect x="1700" y="582.7" width="2" height="113.0" fill="#e83323"/>
<rect x="1696" y="586.0" width="10" height="109.7" fill="#e83323"/>
<rect x="1716" y="496.2" width="2" height="103.7" fill="#e83323"/>
<rect x="1712" y="514.0" width="10" height="72.0" fill="#e83323"/>
<rect x="1732" y="478.0" width="2" height="84.2" fill="#e83323"/>
<rect x="1728" y="486.3" width="10" height="27.8" fill="#e83323"/>
<rect x="1748" y="376.3" width="2" height="115.6" fill="#e83323"/>
<rect x="1744" y="414.2" width="10" height="72.7" fill="#e83323"/>
<rect x="1764" y="386.2" width="2" height="89.9" fill="#0000c0"/>
<rect x="1760" y="412.6" width="10" height="7.3" fill="#0000f0"/>
<rect x="1780" y="343.9" width="2" height="89.5" fill="#e83323"/>
<rect x="1776" y="388.5" width="10" height="33.0" fill="#e83323"/>
<rect x="1796" y="355.8" width="2" height="96.5" fill="#0000c0"/>
<rect x="1792" y="386.2" width="10" height="57.8" fill="#0000f0"/>
<rect x="1812" y="400.0" width="2" height="67.7" fill="#e83323"/>
<rect x="1808" y="411.9" width="10" height="35.3" fill="#e83323"/>
<rect x="1828" y="388.5" width="2" height="44.9" fill="#e83323"/>
<rect x="1824" y="409.9" width="10" height="5.9" fill="#e83323"/>
<rect x="1844.1" y="381.9" width="1.8" height="46.3" fill="#7be03c"/>
<rect x="1840" y="412.0" width="10" height="1.8" fill="#7be03c"/>
<rect x="1860" y="381.9" width="2" height="30.1" fill="#e83323"/>
<rect x="1856" y="393.8" width="10" height="18.2" fill="#e83323"/>
<rect x="1876" y="392.1" width="2" height="85.6" fill="#0000c0"/>
<rect x="1872" y="392.1" width="10" height="73.3" fill="#0000f0"/>
<rect x="1892" y="452.2" width="2" height="53.5" fill="#e83323"/>
<rect x="1888" y="462.1" width="10" height="3.3" fill="#e83323"/>
<rect x="1908" y="434.1" width="2" height="57.8" fill="#e83323"/>
<rect x="1904" y="442.3" width="10" height="21.5" fill="#e83323"/>
<rect x="1924" y="440.0" width="2" height="87.5" fill="#0000c0"/>
<rect x="1920" y="442.3" width="10" height="85.2" fill="#0000f0"/>
<rect x="1940" y="518.3" width="2" height="157.6" fill="#0000c0"/>
<rect x="1936" y="520.0" width="10" height="87.5" fill="#0000f0"/>
<rect x="1956" y="573.8" width="2" height="56.2" fill="#e83323"/>
<rect x="1952" y="576.1" width="10" height="43.9" fill="#e83323"/>
<rect x="1972" y="563.9" width="2" height="39.6" fill="#e83323"/>
<rect x="1968" y="572.2" width="10" height="5.6" fill="#e83323"/>
<rect x="1988" y="530.3" width="2" height="69.7" fill="#e83323"/>
<rect x="1984" y="548.4" width="10" height="25.1" fill="#e83323"/>
<rect x="2004" y="499.9" width="2" height="53.9" fill="#e83323"/>
<rect x="2000" y="509.8" width="10" height="36.3" fill="#e83323"/>
<rect x="2020" y="502.2" width="2" height="49.6" fill="#0000c0"/>
<rect x="2016" y="514.1" width="10" height="5.6" fill="#0000f0"/>
<rect x="2036" y="509.8" width="2" height="15.9" fill="#e83323"/>
<rect x="2032" y="511.4" width="10" height="5.0" fill="#e83323"/>
<rect x="2052" y="512.4" width="2" height="55.2" fill="#0000c0"/>
<rect x="2048" y="518.0" width="10" height="45.6" fill="#0000f0"/>
<rect x="2068" y="550.1" width="2" height="53.9" fill="#0000c0"/>
<rect x="2064" y="564.3" width="10" height="27.4" fill="#0000f0"/>
<rect x="2084" y="490.0" width="2" height="107.4" fill="#e83323"/>
<rect x="2080" y="548.4" width="10" height="44.9" fill="#e83323"/>
<rect x="2100" y="532.2" width="2" height="75.7" fill="#0000c0"/>
<rect x="2096" y="544.5" width="10" height="11.6" fill="#0000f0"/>
<rect x="2116" y="518.0" width="2" height="73.7" fill="#0000c0"/>
<rect x="2112" y="554.4" width="10" height="19.2" fill="#0000f0"/>
<rect x="2132" y="494.3" width="2" height="85.9" fill="#e83323"/>
<rect x="2128" y="512.4" width="10" height="55.2" fill="#e83323"/>
<rect x="2148" y="457.9" width="2" height="57.8" fill="#e83323"/>
<rect x="2144" y="460.2" width="10" height="55.5" fill="#e83323"/>
<rect x="2164" y="457.9" width="2" height="33.7" fill="#0000c0"/>
<rect x="2160" y="461.9" width="10" height="28.1" fill="#0000f0"/>
<rect x="2180" y="466.2" width="2" height="37.7" fill="#e83323"/>
<rect x="2176" y="470.1" width="10" height="27.4" fill="#e83323"/>
<rect x="2196" y="442.1" width="2" height="42.0" fill="#e83323"/>
<rect x="2192" y="461.9" width="10" height="19.8" fill="#e83323"/>
<rect x="2212" y="446.4" width="2" height="42.0" fill="#e83323"/>
<rect x="2208" y="446.4" width="10" height="15.5" fill="#e83323"/>
<rect x="2228" y="385.9" width="2" height="61.8" fill="#e83323"/>
<rect x="2224" y="436.1" width="10" height="9.3" fill="#e83323"/>
<rect x="2244" y="381.9" width="2" height="51.9" fill="#e83323"/>
<rect x="2240" y="414.0" width="10" height="18.2" fill="#e83323"/>
<rect x="2260" y="338.0" width="2" height="95.8" fill="#e83323"/>
<rect x="2256" y="388.2" width="10" height="45.6" fill="#e83323"/>
<rect x="2276" y="364.4" width="2" height="121.6" fill="#0000c0"/>
<rect x="2272" y="386.6" width="10" height="9.3" fill="#0000f0"/>
<rect x="2292" y="318.2" width="2" height="75.3" fill="#e83323"/>
<rect x="2288" y="336.3" width="10" height="57.2" fill="#e83323"/>
<rect x="2308" y="346.3" width="2" height="207.5" fill="#0000c0"/>
<rect x="2304" y="370.0" width="10" height="127.5" fill="#0000f0"/>
<polygon points="614.4,1060.4 643.7,1009.1 702.9,1009.1 732.8,1060.4 702.9,1111.8 643.7,1111.8" fill="none" stroke="#e650ee" stroke-width="10" stroke-linejoin="miter"/>
<polygon points="741.5,1020.1 801.8,992.0 1201.9,803.7 1481.9,671.5 1602.0,615.4 1682.3,578.2 1734.6,554.3 1782.8,532.2 1839.0,506.1 1833.0,493.5 1777.2,520.2 1729.4,543.3 1677.7,568.4 1598.0,606.7 1478.1,663.7 1198.1,795.5 798.2,984.2 738.1,1012.9" fill="#e650ee"/>
<polygon points="1876,481 1820,479 1841.7,524.5" fill="#e650ee"/>
<polygon points="1947.5,343.0 1962.7,389.7 2011.8,389.7 1972.1,418.6 1987.2,465.3 1947.5,436.4 1907.8,465.3 1922.9,418.6 1883.2,389.7 1932.3,389.7" fill="none" stroke="#e650ee" stroke-width="10" stroke-linejoin="miter" stroke-miterlimit="10"/>
</g>
<g fill="#000">
<rect x="2" y="4" width="2" height="1182"/>
<rect x="2" y="4" width="2518" height="2"/>
<rect x="2518" y="4" width="2" height="1182"/>
<rect x="2" y="1184" width="2518" height="2"/>
<rect x="2520" y="72" width="4" height="2"/>
<rect x="2520" y="148" width="4" height="2"/>
<rect x="2520" y="224" width="4" height="2"/>
<rect x="2520" y="290" width="4" height="2"/>
<rect x="2520" y="366" width="4" height="2"/>
<rect x="2520" y="442" width="4" height="2"/>
<rect x="2520" y="518" width="4" height="2"/>
<rect x="2520" y="584" width="4" height="2"/>
<rect x="2520" y="660" width="4" height="2"/>
<rect x="2520" y="736" width="4" height="2"/>
<rect x="2520" y="812" width="4" height="2"/>
<rect x="2520" y="878" width="4" height="2"/>
<rect x="2520" y="954" width="4" height="2"/>
<rect x="2520" y="1030" width="4" height="2"/>
<rect x="2520" y="1106" width="4" height="2"/>
<rect x="2520" y="1172" width="4" height="2"/>
<rect x="3.7" y="1186" width="2" height="5"/>
<rect x="131.7" y="1186" width="2" height="5"/>
<rect x="259.7" y="1186" width="2" height="5"/>
<rect x="387.7" y="1186" width="2" height="5"/>
<rect x="515.7" y="1186" width="2" height="5"/>
<rect x="643.7" y="1186" width="2" height="5"/>
<rect x="771.7" y="1186" width="2" height="5"/>
<rect x="899.7" y="1186" width="2" height="5"/>
<rect x="1027.7" y="1186" width="2" height="5"/>
<rect x="1155.7" y="1186" width="2" height="5"/>
<rect x="1283.7" y="1186" width="2" height="5"/>
<rect x="1411.7" y="1186" width="2" height="5"/>
<rect x="1539.7" y="1186" width="2" height="5"/>
<rect x="1667.7" y="1186" width="2" height="5"/>
<rect x="1795.7" y="1186" width="2" height="5"/>
<rect x="1923.7" y="1186" width="2" height="5"/>
<rect x="2051.7" y="1186" width="2" height="5"/>
<rect x="2179.7" y="1186" width="2" height="5"/>
<rect x="2307.7" y="1186" width="2" height="5"/>
</g>
<rect x="2610" y="0" width="2" height="1228" fill="#d9dde0"/>
<rect x="0" y="1226" width="2612" height="2" fill="#e3e3e3"/>
<text x="2531.5" y="79.7" font-size="18.6" fill="#000" stroke="#000" stroke-width="0.4" textLength="62.5" lengthAdjust="spacingAndGlyphs">156.720</text>
<text x="2531.5" y="155.7" font-size="18.6" fill="#000" stroke="#000" stroke-width="0.4" textLength="62.5" lengthAdjust="spacingAndGlyphs">156.685</text>
<text x="2531.5" y="231.7" font-size="18.6" fill="#000" stroke="#000" stroke-width="0.4" textLength="62.5" lengthAdjust="spacingAndGlyphs">156.650</text>
<text x="2531.5" y="297.7" font-size="18.6" fill="#000" stroke="#000" stroke-width="0.4" textLength="62.5" lengthAdjust="spacingAndGlyphs">156.620</text>
<text x="2531.5" y="373.7" font-size="18.6" fill="#000" stroke="#000" stroke-width="0.4" textLength="62.5" lengthAdjust="spacingAndGlyphs">156.585</text>
<text x="2531.5" y="449.7" font-size="18.6" fill="#000" stroke="#000" stroke-width="0.4" textLength="62.5" lengthAdjust="spacingAndGlyphs">156.550</text>
<text x="2531.5" y="525.7" font-size="18.6" fill="#000" stroke="#000" stroke-width="0.4" textLength="62.5" lengthAdjust="spacingAndGlyphs">156.515</text>
<text x="2531.5" y="591.7" font-size="18.6" fill="#000" stroke="#000" stroke-width="0.4" textLength="62.5" lengthAdjust="spacingAndGlyphs">156.485</text>
<text x="2531.5" y="667.7" font-size="18.6" fill="#000" stroke="#000" stroke-width="0.4" textLength="62.5" lengthAdjust="spacingAndGlyphs">156.450</text>
<text x="2531.5" y="743.7" font-size="18.6" fill="#000" stroke="#000" stroke-width="0.4" textLength="62.5" lengthAdjust="spacingAndGlyphs">156.415</text>
<text x="2531.5" y="819.7" font-size="18.6" fill="#000" stroke="#000" stroke-width="0.4" textLength="62.5" lengthAdjust="spacingAndGlyphs">156.380</text>
<text x="2531.5" y="885.7" font-size="18.6" fill="#000" stroke="#000" stroke-width="0.4" textLength="62.5" lengthAdjust="spacingAndGlyphs">156.350</text>
<text x="2531.5" y="961.7" font-size="18.6" fill="#000" stroke="#000" stroke-width="0.4" textLength="62.5" lengthAdjust="spacingAndGlyphs">156.315</text>
<text x="2531.5" y="1113.7" font-size="18.6" fill="#000" stroke="#000" stroke-width="0.4" textLength="62.5" lengthAdjust="spacingAndGlyphs">156.245</text>
<text x="2531.5" y="1179.7" font-size="18.6" fill="#000" stroke="#000" stroke-width="0.4" textLength="62.5" lengthAdjust="spacingAndGlyphs">156.215</text>
<rect x="2524" y="452" width="78" height="22" fill="#7a34d2"/><text x="2531.5" y="469.7" font-size="18.6" fill="#fff" stroke="#fff" stroke-width="0.4" textLength="62.5" lengthAdjust="spacingAndGlyphs">156.540</text>
<rect x="2524" y="486" width="78" height="22" fill="#000"/><text x="2531.5" y="503.7" font-size="18.6" fill="#fff" stroke="#fff" stroke-width="0.4" textLength="62.5" lengthAdjust="spacingAndGlyphs">156.525</text>
<rect x="2524" y="1024" width="78" height="22" fill="#6a8fe0"/><text x="2531.5" y="1042.2" font-size="18.6" fill="#fff" stroke="#fff" stroke-width="0.4" textLength="62.5" lengthAdjust="spacingAndGlyphs">156.278</text>
<text x="1.2" y="1209" font-size="18.6" fill="#000" stroke="#000" stroke-width="0.4" textLength="103.5" lengthAdjust="spacingAndGlyphs">26 Dec 2025</text>
<text x="129.2" y="1209" font-size="18.6" fill="#000" stroke="#000" stroke-width="0.4" textLength="110" lengthAdjust="spacingAndGlyphs">26 Dec 12:35</text>
<text x="257.2" y="1209" font-size="18.6" fill="#000" stroke="#000" stroke-width="0.4" textLength="110" lengthAdjust="spacingAndGlyphs">26 Dec 13:15</text>
<text x="385.2" y="1209" font-size="18.6" fill="#000" stroke="#000" stroke-width="0.4" textLength="110" lengthAdjust="spacingAndGlyphs">26 Dec 13:55</text>
<text x="513.2" y="1209" font-size="18.6" fill="#000" stroke="#000" stroke-width="0.4" textLength="110" lengthAdjust="spacingAndGlyphs">26 Dec 14:35</text>
<text x="641.2" y="1209" font-size="18.6" fill="#000" stroke="#000" stroke-width="0.4" textLength="110" lengthAdjust="spacingAndGlyphs">26 Dec 15:15</text>
<text x="769.2" y="1209" font-size="18.6" fill="#000" stroke="#000" stroke-width="0.4" textLength="110" lengthAdjust="spacingAndGlyphs">26 Dec 15:55</text>
<text x="897.2" y="1209" font-size="18.6" fill="#000" stroke="#000" stroke-width="0.4" textLength="110" lengthAdjust="spacingAndGlyphs">26 Dec 16:35</text>
<text x="1025.2" y="1209" font-size="18.6" fill="#000" stroke="#000" stroke-width="0.4" textLength="110" lengthAdjust="spacingAndGlyphs">26 Dec 17:15</text>
<text x="1153.2" y="1209" font-size="18.6" fill="#000" stroke="#000" stroke-width="0.4" textLength="110" lengthAdjust="spacingAndGlyphs">26 Dec 17:55</text>
<text x="1281.2" y="1209" font-size="18.6" fill="#000" stroke="#000" stroke-width="0.4" textLength="110" lengthAdjust="spacingAndGlyphs">26 Dec 18:35</text>
<text x="1409.2" y="1209" font-size="18.6" fill="#000" stroke="#000" stroke-width="0.4" textLength="110" lengthAdjust="spacingAndGlyphs">26 Dec 19:15</text>
<text x="1537.2" y="1209" font-size="18.6" fill="#000" stroke="#000" stroke-width="0.4" textLength="110" lengthAdjust="spacingAndGlyphs">26 Dec 19:55</text>
<text x="1665.2" y="1209" font-size="18.6" fill="#000" stroke="#000" stroke-width="0.4" textLength="110" lengthAdjust="spacingAndGlyphs">26 Dec 20:35</text>
<text x="1793.2" y="1209" font-size="18.6" fill="#000" stroke="#000" stroke-width="0.4" textLength="110" lengthAdjust="spacingAndGlyphs">26 Dec 21:15</text>
<text x="1921.2" y="1209" font-size="18.6" fill="#000" stroke="#000" stroke-width="0.4" textLength="110" lengthAdjust="spacingAndGlyphs">26 Dec 21:55</text>
<text x="2049.2" y="1209" font-size="18.6" fill="#000" stroke="#000" stroke-width="0.4" textLength="110" lengthAdjust="spacingAndGlyphs">26 Dec 22:35</text>
<text x="2177.2" y="1209" font-size="18.6" fill="#000" stroke="#000" stroke-width="0.4" textLength="110" lengthAdjust="spacingAndGlyphs">26 Dec 23:15</text>
<text x="2305.2" y="1209" font-size="18.6" fill="#000" stroke="#000" stroke-width="0.4" textLength="110" lengthAdjust="spacingAndGlyphs">26 Dec 23:55</text>
<rect x="518" y="1192" width="128" height="22" fill="#f3b6c3"/>
<svg x="518" y="1192" width="128" height="22" viewBox="0 0 128 22"><text x="6" y="17" font-size="18.6" fill="#fff" stroke="#fff" stroke-width="0.4" textLength="144" lengthAdjust="spacingAndGlyphs">2025.12.26 15:00</text></svg>
<rect x="646" y="1192" width="156" height="22" fill="#6a8fe0"/><text x="652" y="1209" font-size="18.6" fill="#fff" stroke="#fff" stroke-width="0.4" textLength="144" lengthAdjust="spacingAndGlyphs">2025.12.26 15:42</text>
<rect x="1830" y="1192" width="156" height="22" fill="#7a34d2"/><text x="1836" y="1209" font-size="18.6" fill="#fff" stroke="#fff" stroke-width="0.4" textLength="144" lengthAdjust="spacingAndGlyphs">2025.12.26 21:50</text>
<polygon points="10,25.5 24,25.5 17,17" fill="#000"/>
<text x="33" y="27.5" font-size="18.6" fill="#000" stroke="#000" stroke-width="0.4" textLength="102" lengthAdjust="spacingAndGlyphs">USDJPY,M5</text><text x="151.7" y="27.5" font-size="18.6" fill="#000" stroke="#000" stroke-width="0.4" textLength="62.5" lengthAdjust="spacingAndGlyphs">156.583</text><text x="223.5" y="27.5" font-size="18.6" fill="#000" stroke="#000" stroke-width="0.4" textLength="62.5" lengthAdjust="spacingAndGlyphs">156.594</text><text x="295.3" y="27.5" font-size="18.6" fill="#000" stroke="#000" stroke-width="0.4" textLength="62.5" lengthAdjust="spacingAndGlyphs">156.500</text><text x="367" y="27.5" font-size="18.6" fill="#000" stroke="#000" stroke-width="0.4" textLength="62.5" lengthAdjust="spacingAndGlyphs">156.525</text>
<path d="M10 34H97V72H196V130H10Z" fill="url(#rg)"/>
<path d="M200 72H297V34H384V130H200Z" fill="url(#rg)"/>
<path d="M11 35H96V73H195V129H11Z" fill="none" stroke="#a81d17" stroke-opacity="0.75" stroke-width="2"/>
<path d="M201 73H298V35H383V129H201Z" fill="none" stroke="#a81d17" stroke-opacity="0.75" stroke-width="2"/>
<rect x="18" y="70.5" width="70" height="1.7" fill="#8f1512"/><rect x="18" y="72.2" width="70" height="1.8" fill="#f07872"/>
<rect x="304" y="70.5" width="70" height="1.7" fill="#8f1512"/><rect x="304" y="72.2" width="70" height="1.8" fill="#f07872"/>
<text x="27.5" y="59.8" font-size="23.8" fill="#fff4ee" textLength="51" lengthAdjust="spacingAndGlyphs">SELL</text>
<text x="316.5" y="59.8" font-size="23.8" fill="#fff4ee" textLength="44" lengthAdjust="spacingAndGlyphs">BUY</text>
<text x="44" y="125.7" font-size="25" fill="#fff" textLength="38" lengthAdjust="spacingAndGlyphs">156</text>
<text x="92" y="125.7" font-size="58" fill="#fff" textLength="58" lengthAdjust="spacingAndGlyphs">52</text>
<text x="161" y="89.6" font-size="24" fill="#fff" textLength="11" lengthAdjust="spacingAndGlyphs">5</text>
<text x="232" y="125.7" font-size="25" fill="#fff" textLength="37" lengthAdjust="spacingAndGlyphs">156</text>
<text x="283" y="125.7" font-size="58" fill="#fff" textLength="58" lengthAdjust="spacingAndGlyphs">64</text>
<text x="351" y="89.6" font-size="24" fill="#fff" textLength="11" lengthAdjust="spacingAndGlyphs">8</text>
<rect x="103" y="35" width="188" height="32" rx="3" fill="#fff" stroke="#b4b4b4" stroke-width="2"/>
<rect x="133.5" y="35" width="2" height="32" fill="#b4b4b4"/><rect x="258" y="35" width="2" height="32" fill="#b4b4b4"/>
<path d="M114.5 49L119 53.5L123.5 49" stroke="#555" stroke-width="1.5" fill="none"/>
<path d="M270.5 53L275 48.5L279.5 53" stroke="#555" stroke-width="1.5" fill="none"/>
<text x="212.5" y="57.3" font-size="22.5" fill="#1c3766" textLength="37.5" lengthAdjust="spacingAndGlyphs">1.00</text>
</svg></body></html>
